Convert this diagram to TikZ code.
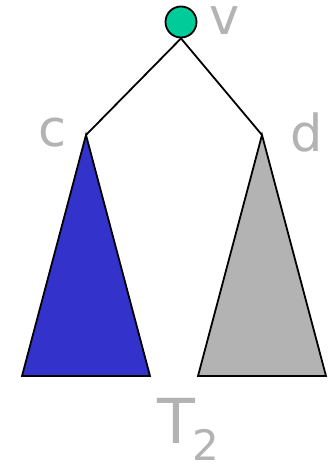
\documentclass[tikz,border=0pt]{standalone}
\usepackage{fontspec}
\setmainfont{DejaVu Sans}
\definecolor{lblgray}{RGB}{179,179,179}
\definecolor{triblue}{RGB}{51,51,204}
\definecolor{trigray}{RGB}{179,179,179}
\definecolor{nodegreen}{RGB}{0,204,153}
\tikzset{
  lbl/.style={text=lblgray, inner sep=0pt, font=\fontsize{51}{51}\selectfont},
  edge/.style={draw=black, line width=1.8pt},
  tri/.style={draw=black, line width=1.8pt, line join=miter}
}
\begin{document}
\begin{tikzpicture}[x=1pt,y=-1pt]
\useasboundingbox (0,0) rectangle (329,465);
\node[circle, draw=black, line width=1.8pt, fill=nodegreen, minimum size=31pt, inner sep=0pt] (v) at (181,22) {};
\coordinate (c) at (86,135);
\coordinate (d) at (262,135);
\coordinate (cl) at (22,376);
\coordinate (cr) at (150,376);
\coordinate (dl) at (198,376);
\coordinate (dr) at (326,376);
\draw[edge] (v.south) -- (c);
\draw[edge] (v.south) -- (d);
\filldraw[tri, fill=triblue] (c) -- (cl) -- (cr) -- cycle;
\filldraw[tri, fill=trigray] (d) -- (dl) -- (dr) -- cycle;
\node[lbl] (vl) at (225,21) {v};
\node[lbl] (cll) at (53,133) {c};
\node[lbl] (dll) at (307,132) {d};
\node[lbl, font=\fontsize{62}{62}\selectfont] (t) at (176,421) {T};
\node[lbl, font=\fontsize{42}{42}\selectfont] (t2) at (206,445) {2};
\end{tikzpicture}
\end{document}
